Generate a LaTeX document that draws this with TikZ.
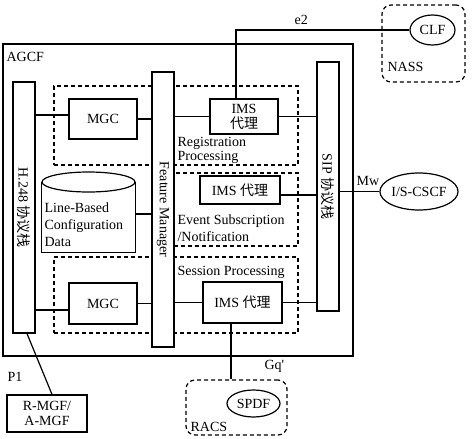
\documentclass[tikz,border=0pt]{standalone}
\usepackage{fontspec}
\setmainfont{Liberation Serif}
\newfontfamily\cjk{Noto Sans CJK SC}
\usetikzlibrary{shapes.geometric}

\begin{document}
\begin{tikzpicture}[x=1pt,y=-1pt,line width=1.2pt,font=\fontsize{14}{17}\selectfont]
    \tikzstyle{block}=[draw,fill=white,inner sep=0pt]
    \tikzstyle{stack}=[block,minimum width=22pt]
    \tikzstyle{procgroup}=[draw,dash pattern=on 4pt off 3pt,inner sep=0pt]
    \tikzstyle{subsystem}=[procgroup,rounded corners=9pt]
    \tikzstyle{entity}=[ellipse,draw,fill=white,inner sep=0pt]
    \tikzstyle{annot}=[align=left,anchor=west,inner sep=0pt]

    \useasboundingbox (0,0) rectangle (472,439);

    \node[draw,minimum width=350pt,minimum height=312pt] (AGCF) at (178,200) {};
    \node[annot] (AGCF-t) at (6,57) {AGCF};

    \node[procgroup,minimum width=244pt,minimum height=79pt] (REG) at (176,125.5) {};
    \node[procgroup,minimum width=124pt,minimum height=73pt] (EVT) at (236,209.5) {};
    \node[procgroup,minimum width=244pt,minimum height=76pt] (SES) at (176,295) {};

    \node[stack,minimum height=251pt,label={[rotate=-90]center:H.248 {\cjk 协议栈}}] (H248) at (24,207.5) {};
    \node[stack,minimum height=275pt,label={[rotate=-90]center:Feature Manager}] (FM) at (163,209.5) {};
    \node[stack,minimum height=249pt,label={[rotate=-90]center:SIP {\cjk 协议栈}}] (SIP) at (328,186.5) {};

    \node[block,minimum width=68pt,minimum height=40pt] (MGCR) at (103,119) {MGC};
    \node[block,minimum width=68pt,minimum height=35pt,align=center] (IMSR) at (244,116.5) {IMS\\[-2pt]{\cjk 代理}};
    \node[block,minimum width=80pt,minimum height=28pt] (IMSE) at (240,190) {IMS {\cjk 代理}};
    \node[block,minimum width=68pt,minimum height=41pt] (MGCS) at (103,303.5) {MGC};
    \node[block,minimum width=79pt,minimum height=41pt] (IMSS) at (242.5,302.5) {IMS {\cjk 代理}};

    % data store: flat bottom, elliptic lid
    \node[minimum width=93pt,minimum height=70pt,inner sep=0pt] (LBCD) at (88.5,217) {};
    \node[ellipse,draw,inner sep=0pt,minimum width=93pt,minimum height=20pt] (LBCD-cap) at (88.5,182) {};
    \draw (LBCD-cap.west) -- (LBCD.south west) -- (LBCD.south east) -- (LBCD-cap.east);
    \node[annot] (LBCD-t) at (44,225) {Line-Based\\Configuration\\Data};

    \node[subsystem,minimum width=83pt,minimum height=77pt] (NASS) at (423.5,43.5) {};
    \node[entity,minimum width=45pt,minimum height=30pt] (CLF) at (432.5,30) {CLF};
    \node[entity,minimum width=72pt,minimum height=37pt] (CSCF) at (419,191.5) {I/S-CSCF};
    \node[subsystem,minimum width=101pt,minimum height=55pt] (RACS) at (236.5,407.5) {};
    \node[entity,minimum width=53pt,minimum height=27pt] (SPDF) at (253.5,403.5) {SPDF};
    \node[block,minimum width=80pt,minimum height=37pt,align=center] (RMGF) at (47,413.5) {R-MGF/\\[-2pt]A-MGF};

    \foreach \blk in {MGCR,MGCS}
        \draw (\blk.east) -- (FM.west |- \blk.east);
    \draw ([yshift=3pt]LBCD.east) -- ([yshift=3pt]LBCD.east -| FM.west);
    \foreach \blk in {IMSR,IMSS}
        \draw (\blk.west) -- (FM.east |- \blk.west);
    \foreach \blk in {IMSR,IMSS}
        \draw (\blk.east) -- (SIP.west |- \blk.east);
    \draw ([yshift=-5pt]IMSE.east) -- ([yshift=-5pt]IMSE.east -| SIP.west);
    \draw ([yshift=4pt]MGCR.west) -- ([yshift=4pt]MGCR.west -| H248.east);
    \draw ([yshift=-6.5pt]MGCS.west) -- ([yshift=-6.5pt]MGCS.west -| H248.east);

    \draw ([xshift=-8pt]IMSR.north) |- (CLF.west);
    \draw (SIP.east |- CSCF.west) -- (CSCF.west);
    \draw ([xshift=-11.5pt]IMSS.south) -- ([xshift=-11.5pt]IMSS.south |- RACS.north);
    \draw ([xshift=3pt]H248.south) -- ([xshift=5pt]RMGF.north);

    % Annotate the groups and interfaces
    \node[annot] (REG-t) at (177,150) {Registration\\[-3pt]Processing};
    \node[annot] (EVT-t) at (177,228) {Event Subscription\\/Notification};
    \node[annot] (SES-t) at (177,272) {Session Processing};
    \node[annot] (NASS-t) at (387,67) {NASS};
    \node[annot] (RACS-t) at (190,427) {RACS};
    \node[annot] (e2) at (294,20) {e2};
    \node[annot] (Mw) at (356,181) {Mw};
    \node[annot] (Gq) at (264,366) {Gq\textquotesingle};
    \node[annot] (P1) at (7,377) {P1};

\end{tikzpicture}
\end{document}
